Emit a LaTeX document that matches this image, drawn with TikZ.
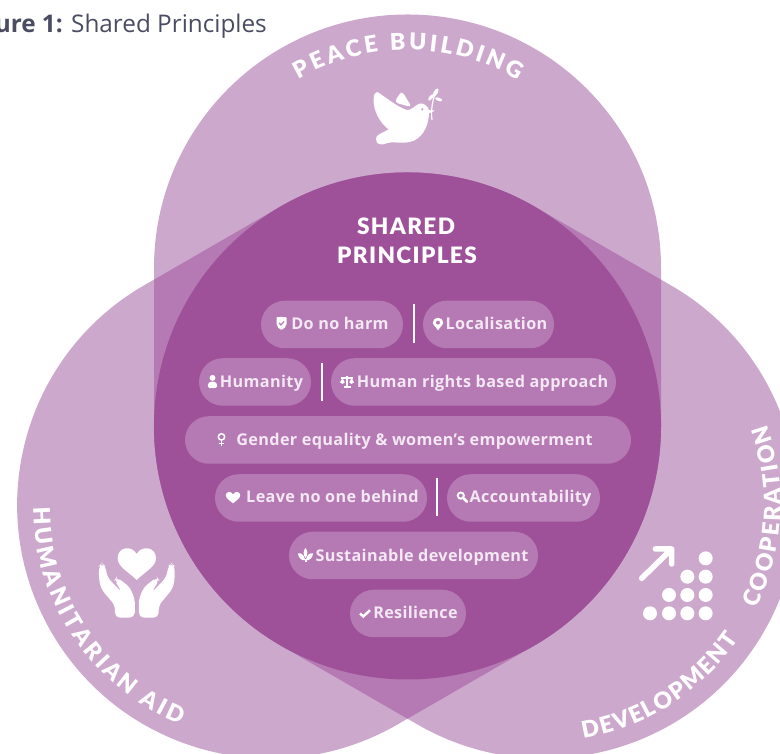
\documentclass[tikz,border=0pt]{standalone}
\usepackage{fontspec}
\usetikzlibrary{shapes.misc,decorations.text}
\setmainfont{Open Sans}
\newfontfamily\pillf{Open Sans}[LetterSpace=2.2]
\newfontfamily\titlef{Lato Black}
\newfontfamily\headf{Lato Black}[LetterSpace=6]
\definecolor{lightp}{HTML}{CDA8CD}
\definecolor{midp}{HTML}{B57AB3}
\definecolor{darkp}{HTML}{9E5199}
\definecolor{pillp}{HTML}{B57AB3}
\definecolor{figtext}{HTML}{4A4C63}
\definecolor{txtw}{HTML}{F3E8F3}
\newcommand\stadiumpath{(154,328) -- (154,486) arc[start angle=180,end angle=0,radius=253.5] -- (661,328) arc[start angle=0,end angle=-180,radius=253.5] -- cycle}
\newcommand\arcfont{\fontsize{23}{24}\selectfont\titlef}
\tikzset{
  rotL/.style={rotate around={120:(407.5,328)}},
  rotR/.style={rotate around={-120:(407.5,328)}},
  px/.style={x=1pt,y=-1pt,shift={(0pt,754pt)}},
  pill/.style={rounded rectangle,fill=pillp,inner sep=0pt,minimum height=47.5pt},
  plabel/.style={text=txtw,font=\pillf\bfseries\fontsize{16.2}{18}\selectfont,inner sep=0pt,anchor=base},
  divider/.style={white,line width=1.5pt},
  arctext/.style={decorate,decoration={text along path,text align={fit to path},text color=white,text={|\arcfont|#1}}},
  head/.style={text=white,font=\headf\fontsize{22.6}{24}\selectfont,inner sep=0pt,anchor=base},
  figlabel/.style={inner sep=0pt,text=figtext,font=\fontsize{24.3}{26}\selectfont},
  pics/ishield/.style={code={
    \fill[white,rounded corners=0.6pt] (-5,-6.2) -- (0,-6.6) -- (5,-6.2) -- (5,0) .. controls (5,3.5) and (2,5.4) .. (0,6.4) .. controls (-2,5.4) and (-5,3.5) .. (-5,0) -- cycle;
    \draw[pillp,line width=1.2pt] (-2.4,-0.6) -- (-0.6,1.4) -- (2.6,-2);}},
  pics/iperson/.style={code={
    \fill[white] (0,-3.6) circle[radius=3pt];
    \fill[white,rounded corners=1.5pt] (-4.6,6.6) -- (-4.6,2) -- (-2.5,0.2) -- (2.5,0.2) -- (4.6,2) -- (4.6,6.6) -- cycle;}},
  pics/iscales/.style={code={
    \draw[white,line width=1.4pt] (-6,-4) -- (6,-4) (0,-6) -- (0,5);
    \fill[white] (-3.5,6) rectangle (3.5,4.4);
    \fill[white] (-7,0.4) -- (-4.6,-4) -- (-2.2,0.4) .. controls (-3,2.4) and (-6.2,2.4) .. (-7,0.4) -- cycle;
    \fill[white] (7,0.4) -- (4.6,-4) -- (2.2,0.4) .. controls (3,2.4) and (6.2,2.4) .. (7,0.4) -- cycle;}},
  pics/ifemale/.style={code={
    \draw[white,line width=1.5pt] (0,-2.6) circle[radius=3.2pt];
    \draw[white,line width=1.5pt] (0,0.8) -- (0,6.6) (-2.6,3.9) -- (2.6,3.9);}},
  pics/ipin/.style={code={
    \fill[white,even odd rule] (0,6.3) .. controls (-2,3.4) and (-5.2,0.6) .. (-5.2,-1.4) .. controls (-5.2,-4.4) and (-2.8,-6.2) .. (0,-6.2) .. controls (2.8,-6.2) and (5.2,-4.4) .. (5.2,-1.4) .. controls (5.2,0.6) and (2,3.4) .. (0,6.3) -- cycle (0,-1.4) circle[radius=2.1pt];}},
  pics/iheart/.style={code={
    \fill[white] (0,5.8) .. controls (-3,3.4) and (-7.2,0.8) .. (-7.2,-2.2) .. controls (-7.2,-6.2) and (-1.8,-6.8) .. (0,-3.2) .. controls (1.8,-6.8) and (7.2,-6.2) .. (7.2,-2.2) .. controls (7.2,0.8) and (3,3.4) .. (0,5.8) -- cycle;}},
  pics/imag/.style={code={
    \draw[white,line width=1.9pt] (-1.7,-1.9) circle[radius=3.1pt];
    \draw[white,line width=2.6pt,line cap=round] (1,0.8) -- (4.4,4.2);}},
  pics/ileaf/.style={code={
    \fill[white] (0,-7) .. controls (2.4,-4) and (2.6,-1) .. (0,3) .. controls (-2.6,-1) and (-2.4,-4) .. (0,-7) -- cycle;
    \fill[white] (-7.6,-1.6) .. controls (-4,-2.4) and (-1.4,0) .. (-0.4,5) .. controls (-4,6) and (-7,3) .. (-7.6,-1.6) -- cycle;
    \fill[white] (7.6,-1.6) .. controls (4,-2.4) and (1.4,0) .. (0.4,5) .. controls (4,6) and (7,3) .. (7.6,-1.6) -- cycle;
    \fill[white] (-1,7) rectangle (1,4);}},
  pics/icheck/.style={code={
    \draw[white,line width=2.5pt] (-5,0) -- (-1.6,3) -- (5,-3.4);}},
}
\begin{document}
\begin{tikzpicture}[x=1pt,y=1pt]
\useasboundingbox (0,0) rectangle (780,754);
\clip (0,0) rectangle (780,754);
\fill[white] (0,0) rectangle (780,754);
% three stadiums
\fill[lightp] \stadiumpath;
\fill[lightp,rotL] \stadiumpath;
\fill[lightp,rotR] \stadiumpath;
\begin{scope}\clip \stadiumpath; \fill[midp,rotL] \stadiumpath; \fill[midp,rotR] \stadiumpath; \end{scope}
\begin{scope}\clip[rotL] \stadiumpath; \fill[midp,rotR] \stadiumpath; \end{scope}
\fill[darkp] (407.5,328) circle[radius=253.5];
% curved titles
\path[arctext=PEACE BUILDING] (407.5,486) ++(120:218) arc[start angle=120,end angle=59.5,radius=218];
\path[arctext=HUMANITARIAN AID] (270.7,249) ++(180.5:237.5) arc[start angle=180.5,end angle=247.7,radius=237.5];
\path[arctext=DEVELOPMENT] (544.3,249) ++(-80.5:236.5) arc[start angle=-80.5,end angle=-34.7,radius=236.5];
\path[arctext=COOPERATION] (544.3,249) ++(-26:236.5) arc[start angle=-26,end angle=20,radius=236.5];
\begin{scope}[px]
\node[figlabel,anchor=base east] (fig) at (63,33) {\textbf{ure 1:}};
\node[figlabel,anchor=base west] (figb) at (71,33) {Shared Principles};
\node[head] (h1) at (406,235) {SHARED};
\node[head] (h2) at (407,264) {PRINCIPLES};
% pills
\node[pill,minimum width=142pt] (p1) at (332,324.5) {};
\node[pill,minimum width=131pt] (p2) at (488.5,324.5) {};
\node[pill,minimum width=112pt] (p3) at (255,382) {};
\node[pill,minimum width=285pt] (p4) at (473.5,382) {};
\node[pill,minimum width=446pt] (p5) at (408,440) {};
\node[pill,minimum width=212pt] (p6) at (321,498) {};
\node[pill,minimum width=153pt] (p7) at (523.5,498) {};
\node[pill,minimum width=249pt] (p8) at (413.5,555.5) {};
\node[pill,minimum width=116pt] (p9) at (408,613.5) {};
\coordinate (d1a) at (414,304); \coordinate (d1b) at (414,343);
\coordinate (d2a) at (322,363); \coordinate (d2b) at (322,401);
\coordinate (d3a) at (437,478); \coordinate (d3b) at (437,516);
\draw[divider] (d1a) -- (d1b);
\draw[divider] (d2a) -- (d2b);
\draw[divider] (d3a) -- (d3b);
\node[plabel] (t1) at (340,330) {Do no harm};
\node[plabel] (t2) at (496.5,330) {Localisation};
\node[plabel] (t3) at (261.5,388) {Humanity};
\node[plabel] (t4) at (482.5,388) {Human rights based approach};
\node[plabel] (t5) at (414.5,445.5) {Gender equality \& women’s empowerment};
\node[plabel] (t6) at (332.5,503) {Leave no one behind};
\node[plabel] (t7) at (530.5,503) {Accountability};
\node[plabel] (t8) at (422,561.5) {Sustainable development};
\node[plabel] (t9) at (415.5,619) {Resilience};
\pic at (281.5,323.5) {ishield};
\pic at (438,324) {ipin};
\pic at (212.5,381.5) {iperson};
\pic at (347,382) {iscales};
\pic at (221.5,439.5) {ifemale};
\pic at (233,497.5) {iheart};
\pic at (462.5,497.5) {imag};
\pic at (305.5,555) {ileaf};
\pic at (365,613.5) {icheck};
% dove
\begin{scope}[shift={(340,70)},x=0.3333pt,y=-0.3333pt]
\fill[white,rounded corners=4pt] (163,97) -- (185,62) -- (216,112) -- cycle;
\fill[white,even odd rule] (112,66) .. controls (135,80) and (170,110) .. (200,120) .. controls (215,122) and (222,108) .. (238,101)
  .. controls (252,98) and (262,108) .. (267,120) -- (285,122) -- (267,130) .. controls (266,160) and (255,195) .. (222,212)
  .. controls (190,225) and (160,212) .. (140,220) .. controls (125,226) and (108,225) .. (108,208) .. controls (106,195) and (125,190) .. (146,178)
  .. controls (120,160) and (98,120) .. (101,85) .. controls (102,72) and (106,66) .. (112,66) -- cycle
  (247,118) circle[radius=1.6pt];
\draw[white,line width=1.2pt] (276,150) .. controls (272,120) and (278,90) .. (288,62);
\fill[white,rotate around={-30:(288,66)}] (288,68) ellipse[x radius=6,y radius=14];
\fill[white,rotate around={-40:(273,82)}] (273,82) ellipse[x radius=5,y radius=12];
\fill[white,rotate around={70:(296,88)}] (296,88) ellipse[x radius=5,y radius=11];
\end{scope}
% hands with heart
\begin{scope}[shift={(80,530)},x=0.3333pt,y=-0.3333pt]
\fill[white] (170,150) .. controls (145,125) and (113,110) .. (113,85) .. controls (113,50) and (155,45) .. (170,72) .. controls (185,45) and (228,50) .. (228,85) .. controls (228,110) and (195,125) .. (170,150) -- cycle;
\foreach \sx/\ox in {1/0,-1/341}{
\begin{scope}[shift={(\ox pt*0.3333,0)},xscale=\sx]
\fill[white,rounded corners=5pt] (57,108) -- (66,100) -- (76,108) -- (82,142) -- (125,187) -- (118,172) -- (103,152) -- (110,141) -- (150,172) -- (165,210) -- (164,263) -- (105,263) -- (105,226) -- (64,178) -- (57,150) -- cycle;
\end{scope}}
\end{scope}
% arrow with dots
\begin{scope}[shift={(620,530)},x=0.3333pt,y=-0.3333pt]
\draw[white,line width=5.5pt,line cap=round,line join=round] (65,145) -- (152,60) (106,57) -- (155,57) -- (155,102);
\foreach \cx/\cy in {257/85,202/140,257/140,147/195,202/195,257/195,90/250,147/250,202/250,257/250}
  \fill[white] (\cx,\cy) circle[radius=7pt];
\end{scope}
\end{scope}
\end{tikzpicture}
\end{document}
